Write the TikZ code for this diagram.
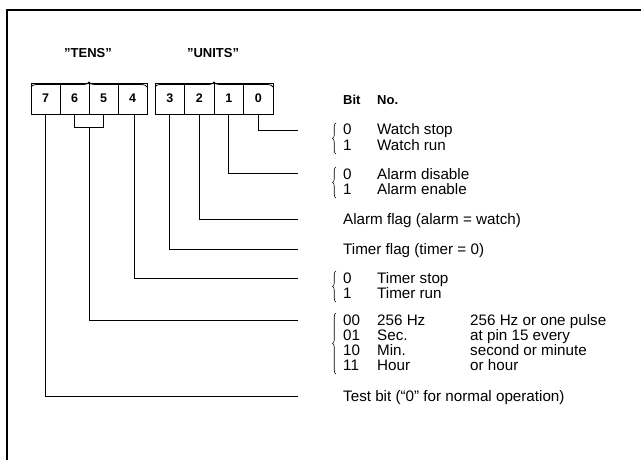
\documentclass[tikz,border=0pt]{standalone}
\usepackage{fontspec}
\setmainfont{Liberation Sans}
\usetikzlibrary{decorations.pathreplacing}
\begin{document}
\begin{tikzpicture}[x=1pt,y=-1pt,
  bitbox/.style={draw, line width=0.8pt, minimum width=29.5pt, minimum height=31pt, inner sep=0pt, outer sep=0pt, font=\bfseries\fontsize{12.5}{13}\selectfont},
  txt/.style={inner sep=0pt, anchor=base west, font=\fontsize{15.2}{15}\selectfont},
  head/.style={inner sep=0pt, anchor=base west, font=\bfseries\fontsize{13}{14}\selectfont},
  wire/.style={line width=0.7pt},
  grpbrace/.style={decorate, decoration={brace, amplitude=3.5pt}, line width=0.6pt},
  topbrace/.style={decorate, decoration={brace, amplitude=5pt}, line width=0.8pt}]
\useasboundingbox (0,0) rectangle (641,460);
% frame
\draw[line width=1.6pt] (7,460) -- (7,10) -- (641,10);
% bit boxes
\node[bitbox, minimum width=29pt] (b7) at (45.5,98.5) {7};
\node[bitbox, minimum width=29pt] (b6) at (74.5,98.5) {6};
\node[bitbox, minimum width=29pt] (b5) at (103.5,98.5) {5};
\node[bitbox, minimum width=29pt] (b4) at (132.5,98.5) {4};
\node[bitbox] (b3) at (169.75,98.5) {3};
\node[bitbox] (b2) at (199.25,98.5) {2};
\node[bitbox] (b1) at (228.75,98.5) {1};
\node[bitbox] (b0) at (258.25,98.5) {0};
% top braces and labels
\draw[topbrace] ([yshift=-4pt]b7.north west) -- ([yshift=-4pt]b4.north east);
\draw[topbrace] ([yshift=-4pt]b3.north west) -- ([yshift=-4pt]b0.north east);
\node[head, anchor=base] (tens) at (88,58) {"TENS"};
\node[head, anchor=base] (units) at (213,58) {"UNITS"};
% heading
\node[head] (hbit) at (343,105) {Bit};
\node[head] (hno) at (377,105) {No.};
% wire ends
\coordinate (e0) at (298,130);
\coordinate (e1) at (298,174);
\coordinate (e2) at (298,219);
\coordinate (e3) at (298,249);
\coordinate (e4) at (298,278);
\coordinate (e65) at (298,320);
\coordinate (e7) at (298,396);
\coordinate (j6) at (b6.south |- 0,127);
\coordinate (j5) at (b5.south |- 0,127);
\coordinate (m65) at (89,127);
% wires
\draw[wire] (b0.south) |- (e0);
\draw[wire, line width=1pt] (b1.south) |- (e1);
\draw[wire, line width=1pt] (b2.south) |- (e2);
\draw[wire, line width=0.9pt] (b3.south) |- (e3);
\draw[wire] ([xshift=2pt]b4.south) |- (e4);
\draw[wire] (b6.south) -- (j6) -- (j5) -- (b5.south);
\draw[wire] (m65) |- (e65);
\draw[wire] (b7.south) |- (e7);
% bit 0
\draw[grpbrace] (336,154) -- (336,123);
\node[txt] (w0) at (343,135) {0};
\node[txt] (w0t) at (377,135) {Watch stop};
\node[txt] (w1) at (343,150) {1};
\node[txt] (w1t) at (377,150) {Watch run};
% bit 1
\draw[grpbrace] (336,198) -- (336,167);
\node[txt] (a0) at (343,179) {0};
\node[txt] (a0t) at (377,179) {Alarm disable};
\node[txt] (a1) at (343,194) {1};
\node[txt] (a1t) at (377,194) {Alarm enable};
% bit 2, 3
\node[txt] (af) at (343,224) {Alarm flag (alarm = watch)};
\node[txt] (tf) at (343,254) {Timer flag (timer = 0)};
% bit 4
\draw[grpbrace] (336,302) -- (336,271);
\node[txt] (s0) at (343,283) {0};
\node[txt] (s0t) at (377,283) {Timer stop};
\node[txt] (s1) at (343,298) {1};
\node[txt] (s1t) at (377,298) {Timer run};
% bits 6,5
\draw[grpbrace] (336,374) -- (336,313);
\node[txt] (f0) at (343,325) {00};
\node[txt] (f0t) at (377,325) {256 Hz};
\node[txt] (f1) at (343,340) {01};
\node[txt] (f1t) at (377,340) {Sec.};
\node[txt] (f2) at (343,355) {10};
\node[txt] (f2t) at (377,355) {Min.};
\node[txt] (f3) at (343,370) {11};
\node[txt] (f3t) at (377,370) {Hour};
\node[txt] (g0) at (470,325) {256 Hz or one pulse};
\node[txt] (g1) at (470,340) {at pin 15 every};
\node[txt] (g2) at (470,355) {second or minute};
\node[txt] (g3) at (470,370) {or hour};
% bit 7
\node[txt] (tb) at (343,401) {Test bit (“0” for normal operation)};
\end{tikzpicture}
\end{document}
